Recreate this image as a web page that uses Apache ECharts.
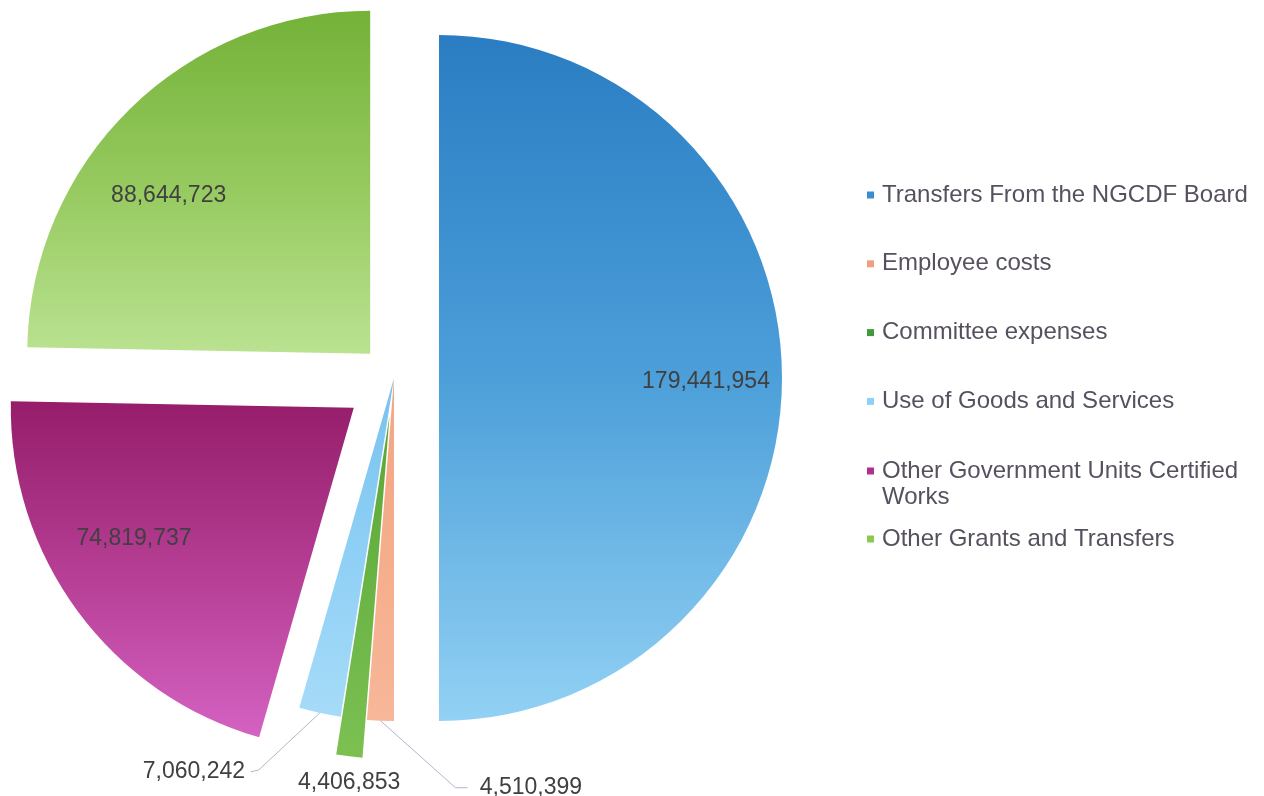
<!DOCTYPE html>
<html>
<head>
<meta charset="utf-8">
<script src="https://cdn.jsdelivr.net/npm/echarts@6/dist/echarts.min.js"></script>
<style>
html,body{margin:0;padding:0;background:#fff;}
#chart{width:1264px;height:796px;}
</style>
</head>
<body>
<div id="chart"></div>
<script>
// ---- data ----
const categories = [
  'Transfers From the NGCDF Board',
  'Employee costs',
  'Committee expenses',
  'Use of Goods and Services',
  'Other Government Units Certified Works',
  'Other Grants and Transfers'
];
const values = [179441954, 4510399, 4406853, 7060242, 74819737, 88644723];

// ---- styles ----
const gradStops = [
  ['#2a7dc2', '#4c9fd9', '#92d1f4'],
  ['#f3a683', '#f5ad8c', '#f7b799'],
  ['#5aa636', '#6ab445', '#7cc052'],
  ['#78c2ee', '#8ecff5', '#a6dbf8'],
  ['#951d6a', '#b53d93', '#d462c2'],
  ['#74b238', '#95c95e', '#bae291']
];
const legendColors = ['#3a8ed0', '#f0a07e', '#3f9a3a', '#8fd0f5', '#b02f8c', '#8cc852'];
const explode = [45, 0, 38, 0, 50, 34];
const R = 343;
const CENTER = [394, 378];
const FONT = 'Liberation Sans, Arial, sans-serif';
const insideLabel = [true, false, false, false, true, true];
// label paddings used to nudge value text horizontally [top, right, bottom, left]
const labelPad = {
  0: [0, 0, 0, 10],
  1: [0, 0, 0, 117],
  2: [0, 0, 0, 16],
  3: [0, 0, 0, 0],
  4: [0, 18, 0, 0],
  5: [0, 36, 0, 0]
};
// vertical nudge of inside value text (px, + = down)
const insideShiftY = {0: 4, 4: -25, 5: 29};
// label line lengths [length, length2]
const lineLen = {1: [67, 10], 2: [26.5, 0], 3: [60.5, 56.7]};
// leader-line bend offsets relative to the slice edge point
const leaderBend = {1: [[75, 67], [87, 67]], 3: [[-61, 57], [-69, 59]]};

function grad(i) {
  const s = gradStops[i];
  return new echarts.graphic.LinearGradient(0, 0, 0, 1, [
    {offset: 0, color: s[0]}, {offset: 0.5, color: s[1]}, {offset: 1, color: s[2]}
  ]);
}
const clear = 'rgba(0,0,0,0)';
const lineStyle = {color: '#b9b3c9', width: 1};

function makeLayout(i) {
  const align = i === 1 ? 'left' : (i === 2 ? 'center' : 'right');
  return p => {
    const out = {align: align, verticalAlign: 'middle'};
    const bend = leaderBend[i];
    const pts = p.labelLinePoints;
    if (bend && pts && pts.length) {
      const p0 = pts[0];
      out.labelLinePoints = [
        [p0[0], p0[1]],
        [p0[0] + bend[0][0], p0[1] + bend[0][1]],
        [p0[0] + bend[1][0], p0[1] + bend[1][1]]
      ];
    }
    return out;
  };
}

const series = [];
// one pie per slice so each can have its own explosion distance
categories.forEach((name, i) => {
  const outside = !insideLabel[i];
  const s = {
    type: 'pie', center: CENTER, radius: [0, R], startAngle: 90, clockwise: true,
    selectedMode: 'multiple', selectedOffset: explode[i], avoidLabelOverlap: false,
    silent: true, animation: false, emphasis: {disabled: true},
    itemStyle: {borderWidth: 0},
    data: categories.map((n, j) => ({
      name: n, value: values[j], selected: j === i,
      itemStyle: {color: j === i ? grad(j) : clear},
      label: {show: j === i && outside},
      labelLine: {show: j === i && outside && i !== 2}
    })),
    label: {position: 'outside', formatter: p => echarts.format.addCommas(p.value),
      fontSize: 23, fontFamily: FONT, color: '#404040', distanceToLabelLine: 5, padding: labelPad[i]},
    labelLine: {length: outside ? lineLen[i][0] : 10, length2: outside ? lineLen[i][1] : 10, lineStyle: lineStyle, smooth: false}
  };
  if (outside) s.labelLayout = makeLayout(i);
  series.push(s);
});
// label carriers for the large slices (places value text at ~3/4 radius)
categories.forEach((name, i) => {
  if (!insideLabel[i]) return;
  const sh = insideShiftY[i];
  const lh = sh !== 0 ? Math.abs(sh) * 2 : 26;
  series.push({
    type: 'pie', center: CENTER, radius: [175, R], startAngle: 90, clockwise: true,
    selectedMode: 'multiple', selectedOffset: explode[i], avoidLabelOverlap: false,
    silent: true, animation: false, emphasis: {disabled: true},
    itemStyle: {color: clear, borderWidth: 0},
    data: categories.map((n, j) => ({
      name: n, value: values[j], selected: j === i,
      label: {show: j === i}
    })),
    label: {position: 'inside', fontSize: 23, fontFamily: FONT, color: '#404040', padding: labelPad[i], lineHeight: lh,
      formatter: p => {
        const t = echarts.format.addCommas(p.value);
        return sh > 0 ? '\n' + t : (sh < 0 ? t + '\n' : t);
      }},
    labelLine: {show: false}
  });
});

const legendBase = {
  orient: 'vertical', left: 862, itemWidth: 7, itemHeight: 7, icon: 'rect',
  selectedMode: false, itemGap: 43,
  textStyle: {fontSize: 24, fontFamily: FONT, color: '#57515f', lineHeight: 26, padding: [0, 0, 0, 3]}
};
const legendItem = i => ({name: categories[i], itemStyle: {color: legendColors[i]}});

const option = {
  backgroundColor: '#ffffff',
  animation: false,
  legend: [
    Object.assign({}, legendBase, {top: 177, itemGap: 42.8, data: [0, 1, 2, 3].map(legendItem)}),
    Object.assign({}, legendBase, {top: 453, itemHeight: 33,
      icon: 'path://M0,0h7v7h-7z M0,33h0.1v0.1h-0.1z',
      data: [legendItem(4)],
      textStyle: Object.assign({}, legendBase.textStyle, {width: 380, overflow: 'break'})}),
    Object.assign({}, legendBase, {top: 521, data: [legendItem(5)]})
  ],
  series: series
};
const chart = echarts.init(document.getElementById('chart'), null, {renderer: 'canvas'});
chart.setOption(option);
</script>
</body>
</html>
